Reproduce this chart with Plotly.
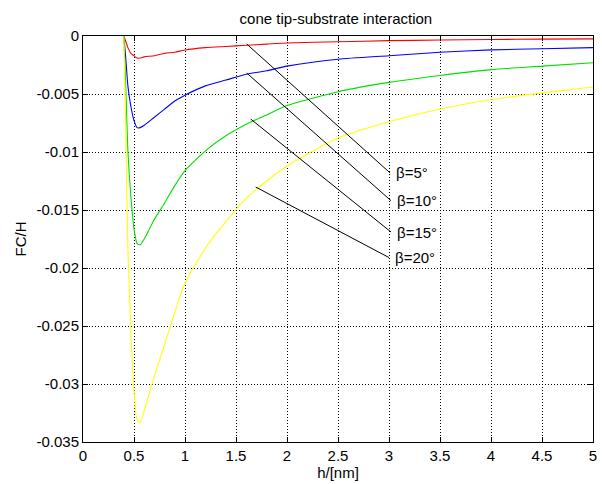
import plotly.graph_objects as go

# sample positions h [nm]
h = [0.40, 0.42, 0.44, 0.47, 0.50, 0.53, 0.56, 0.60, 0.70, 0.80, 0.90, 1.0,
     1.2, 1.4, 1.6, 1.8, 2.0, 2.5, 3.0, 3.5, 4.0, 4.5, 5.0]

fc_b5 = [0.0, -0.0005, -0.0010, -0.0015, -0.0017, -0.0019, -0.0019, -0.0018,
         -0.0017, -0.0015, -0.0014, -0.0012, -0.0010, -0.0009, -0.0008, -0.0007,
         -0.0006, -0.0005, -0.0004, -0.00035, -0.0003, -0.00027, -0.00025]
fc_b10 = [0.0, -0.0020, -0.0043, -0.0061, -0.0073, -0.0079, -0.0079, -0.0077,
          -0.0070, -0.0063, -0.0056, -0.0051, -0.0043, -0.0038, -0.0033, -0.0030,
          -0.0026, -0.0020, -0.0017, -0.0014, -0.0012, -0.0011, -0.0010]
fc_b15 = [0.0, -0.0045, -0.0099, -0.0139, -0.0166, -0.0179, -0.0180, -0.0175,
          -0.0158, -0.0144, -0.0129, -0.0116, -0.0099, -0.0086, -0.0076, -0.0068,
          -0.0060, -0.0048, -0.0040, -0.0034, -0.0029, -0.0026, -0.0023]
fc_b20 = [0.0, -0.0083, -0.0183, -0.0256, -0.0306, -0.0331, -0.0333, -0.0323,
          -0.0293, -0.0266, -0.0238, -0.0213, -0.0183, -0.0160, -0.0140, -0.0125,
          -0.0112, -0.0088, -0.0074, -0.0063, -0.0055, -0.0049, -0.0044]

series = [("β=5°", fc_b5, "#ff0000"), ("β=10°", fc_b10, "#0000ff"),
          ("β=15°", fc_b15, "#00e000"), ("β=20°", fc_b20, "#ffff00")]

labels = ["β=5°", "β=10°", "β=15°", "β=20°"]
pointer_start = [(1.605, -0.00069), (1.605, -0.00319), (1.644, -0.00716), (1.693, -0.01302)]
pointer_end = [(3.01, -0.0118), (3.02, -0.0142), (3.02, -0.0169), (3.0, -0.0191)]

x_ticks = [0, 0.5, 1, 1.5, 2, 2.5, 3, 3.5, 4, 4.5, 5]
x_ticktext = ["0", "0.5", "1", "1.5", "2", "2.5", "3", "3.5", "4", "4.5", "5"]
y_ticks = [0, -0.005, -0.01, -0.015, -0.02, -0.025, -0.03, -0.035]
y_ticktext = ["0", "-0.005", "-0.01", "-0.015", "-0.02", "-0.025", "-0.03", "-0.035"]

fig = go.Figure()
for name, vals, col in series:
    fig.add_trace(go.Scatter(x=h, y=vals, mode="lines", name=name,
                             line=dict(color=col, width=1.1, shape="spline", smoothing=0.6),
                             showlegend=False, cliponaxis=True))

for lab, (x0, y0), (x1, y1) in zip(labels, pointer_start, pointer_end):
    fig.add_shape(type="line", x0=x0, y0=y0, x1=x1, y1=y1, xref="x", yref="y",
                  line=dict(color="black", width=1))
    fig.add_annotation(x=x1 + 0.035, y=y1, text=lab, showarrow=False, xanchor="left",
                       yanchor="middle", font=dict(size=15, color="black"))

axis_common = dict(showline=True, linecolor="black", linewidth=1, mirror="ticks",
                   ticks="inside", ticklen=5, tickcolor="black",
                   showgrid=True, gridcolor="black", gridwidth=1, griddash="1px,2px",
                   zeroline=False, tickfont=dict(size=15, color="black"))

fig.update_layout(
    width=602, height=484,
    margin=dict(l=83, r=5, t=36, b=42),
    paper_bgcolor="white", plot_bgcolor="white",
    font=dict(family="Arial, Liberation Sans, sans-serif", size=15, color="black"),
    title=dict(text="cone tip-substrate interaction", x=0.558, xanchor="center",
               y=1 - 19 / 484, yanchor="middle", font=dict(size=15)),
    xaxis=dict(range=[0, 5], tickvals=x_ticks, ticktext=x_ticktext,
               title=dict(text="h/[nm]", standoff=1, font=dict(size=15)), **axis_common),
    yaxis=dict(range=[-0.035, 0], tickvals=y_ticks, ticktext=y_ticktext,
               title=dict(text="FC/H", standoff=6, font=dict(size=15)), **axis_common),
)

fig.write_html("out.html")
